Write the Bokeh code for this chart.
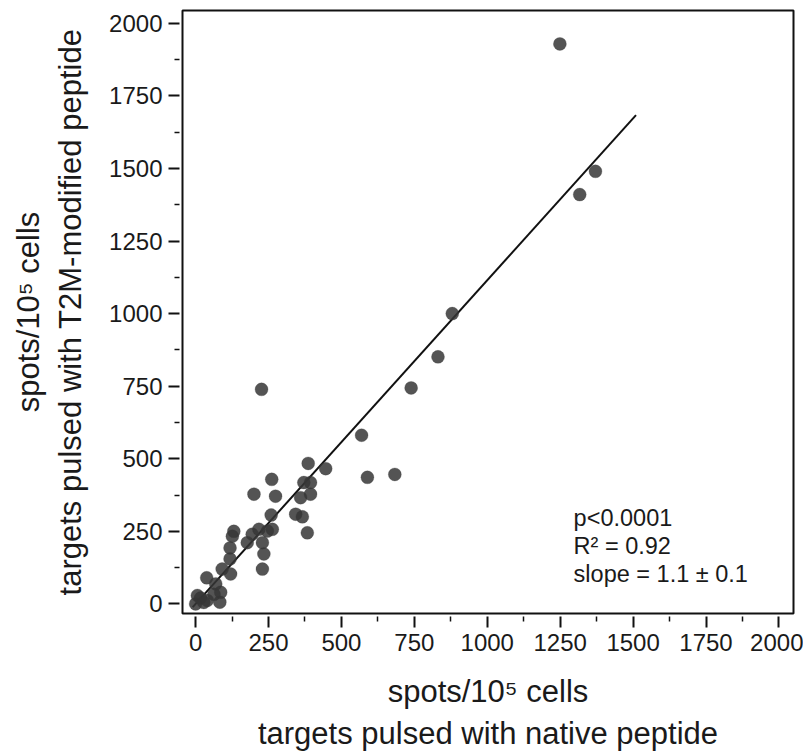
from bokeh.plotting import figure
from bokeh.models import FixedTicker, Label, Range1d
from bokeh.embed import file_html
from bokeh.resources import INLINE

# ---- data ----
native = [1249, 1371, 1317, 880, 831, 739, 569, 589, 683, 226,
          386, 446, 261, 371, 394, 200, 274, 360, 394, 343,
          366, 259, 383, 131, 126, 194, 217, 246, 263, 177,
          229, 234, 118, 118, 229, 91, 120, 38, 69, 86,
          83, 6, 0, 17, 28, 40, 63]
t2m = [1929, 1490, 1410, 1000, 851, 744, 581, 436, 446, 739,
       484, 466, 429, 418, 418, 378, 371, 366, 378, 309,
       300, 306, 245, 250, 233, 240, 257, 251, 257, 211,
       211, 172, 193, 155, 120, 120, 103, 90, 69, 40,
       6, 29, 0, 20, 5, 12, 33]

fit_x = [-10, 1510]
fit_slope = 1.115
fit_intercept = 0.0
fit_y = [fit_slope * v + fit_intercept for v in fit_x]

major_ticks = [0, 250, 500, 750, 1000, 1250, 1500, 1750, 2000]
minor_ticks = [125, 375, 625, 875, 1125, 1375, 1625, 1875]

stats_lines = ["p<0.0001", "R\u00b2 = 0.92", "slope = 1.1 \u00b1 0.1"]
stats_y = [297, 201, 104]

x_title = "spots/10\u2075 cells\ntargets pulsed with native peptide"
y_title = "spots/10\u2075 cells\ntargets pulsed with T2M-modified peptide"

FONT = "Liberation Sans"

p = figure(width=803, height=747, output_backend="svg", toolbar_location=None,
           x_range=Range1d(-45, 2050), y_range=Range1d(-33, 2044),
           min_border_left=182, min_border_right=10, min_border_top=10,
           min_border_bottom=134)
p.frame_width = 611
p.frame_height = 603

p.grid.visible = False
p.outline_line_color = "#111111"
p.outline_line_width = 2
p.background_fill_color = "white"
p.border_fill_color = "white"

p.line(fit_x, fit_y, line_color="#111111", line_width=2)
p.scatter(native, t2m, size=13, fill_color="#363636", fill_alpha=0.85,
          line_color="#363636", line_alpha=0.5, line_width=0.5)

for ax in (p.xaxis[0], p.yaxis[0]):
    ax.ticker = FixedTicker(ticks=major_ticks, minor_ticks=minor_ticks)
    ax.axis_line_color = None
    ax.major_tick_in = -3
    ax.major_tick_out = 14
    ax.minor_tick_in = -3
    ax.minor_tick_out = 8
    ax.major_tick_line_color = "#111111"
    ax.minor_tick_line_color = "#111111"
    ax.major_tick_line_width = 2
    ax.minor_tick_line_width = 1.5
    ax.major_label_text_font = FONT
    ax.major_label_text_font_size = "24px"
    ax.major_label_text_color = "#1a1a1a"
    ax.axis_label_text_font = FONT
    ax.axis_label_text_font_size = "31px"
    ax.axis_label_text_font_style = "normal"
    ax.axis_label_text_color = "#1a1a1a"

p.xaxis.major_label_standoff = 6
p.yaxis.major_label_standoff = 6
p.xaxis.axis_label = x_title
p.yaxis.axis_label = y_title
p.xaxis.axis_label_standoff = 20
p.yaxis.axis_label_standoff = 18

for txt, yy in zip(stats_lines, stats_y):
    p.add_layout(Label(x=1296, y=yy, text=txt, text_font=FONT,
                       text_font_size="23.5px", text_color="#1a1a1a",
                       text_baseline="alphabetic"))

open("out.html", "w").write(file_html(p, INLINE))
